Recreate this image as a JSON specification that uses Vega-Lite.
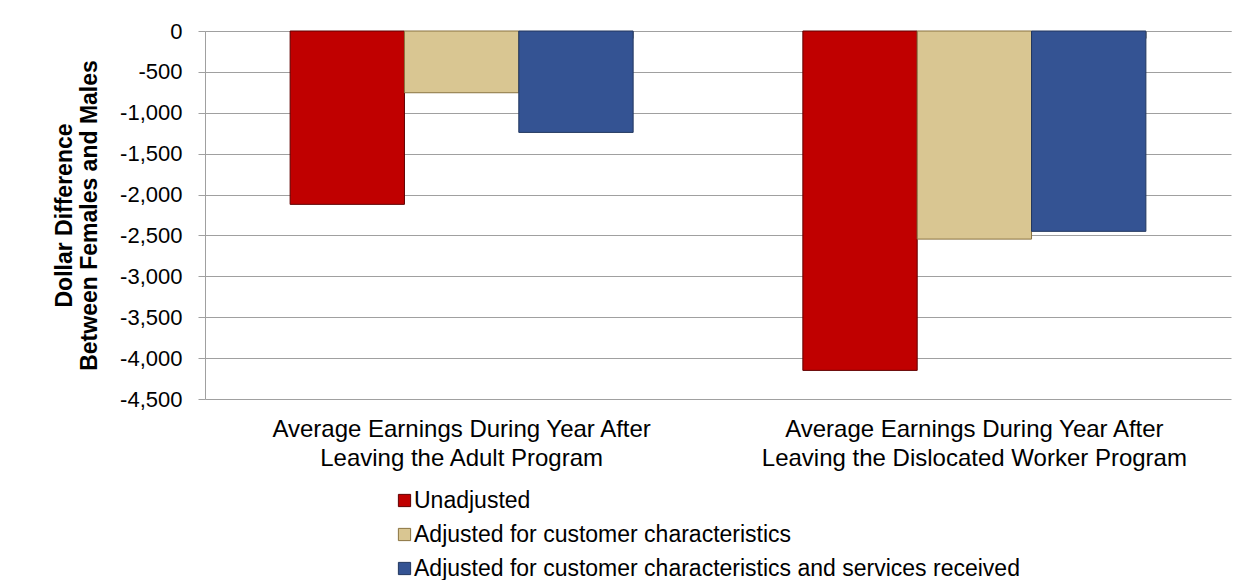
{
  "$schema": "https://vega.github.io/schema/vega-lite/v6.json",
  "width": 1026,
  "height": 368,
  "autosize": {"type": "none"},
  "padding": {"left": 205, "top": 31, "right": 17, "bottom": 181},
  "background": "white",
  "config": {"font": "Liberation Sans", "view": {"stroke": null}},
  "data": {
    "values": [
      {"program": "Average Earnings During Year After|Leaving the Adult Program", "series": "Unadjusted", "diff": -2120},
      {"program": "Average Earnings During Year After|Leaving the Adult Program", "series": "Adjusted for customer characteristics", "diff": -755},
      {"program": "Average Earnings During Year After|Leaving the Adult Program", "series": "Adjusted for customer characteristics and services received", "diff": -1240},
      {"program": "Average Earnings During Year After|Leaving the Dislocated Worker Program", "series": "Unadjusted", "diff": -4150},
      {"program": "Average Earnings During Year After|Leaving the Dislocated Worker Program", "series": "Adjusted for customer characteristics", "diff": -2545},
      {"program": "Average Earnings During Year After|Leaving the Dislocated Worker Program", "series": "Adjusted for customer characteristics and services received", "diff": -2450}
    ]
  },
  "layer": [
    {
      "mark": {"type": "bar", "strokeWidth": 1},
      "encoding": {
        "x": {
          "field": "program", "type": "nominal", "sort": null,
          "scale": {"paddingInner": 0.331, "paddingOuter": 0.166},
          "axis": {"orient": "bottom", "title": null, "domain": false, "ticks": false, "tickSize": 0, "labelAngle": 0, "labelPadding": 18, "labelFontSize": 24, "labelColor": "black", "labelLineHeight": 29, "labelExpr": "split(datum.label, '|')", "labelLimit": 0}
        },
        "xOffset": {
          "field": "series", "type": "nominal",
          "sort": ["Unadjusted", "Adjusted for customer characteristics", "Adjusted for customer characteristics and services received"],
          "scale": {"paddingInner": 0, "paddingOuter": 0}
        },
        "y": {
          "field": "diff", "type": "quantitative",
          "scale": {"domain": [-4500, 0], "nice": false},
          "axis": {
            "values": [0, -500, -1000, -1500, -2000, -2500, -3000, -3500, -4000, -4500],
            "labelExpr": "replace(format(datum.value, ',.0f'), '\u2212', '-')",
            "title": ["Dollar Difference", "Between Females and Males"],
            "titleFontSize": 23, "titleFontWeight": "bold", "titleColor": "black", "titleLineHeight": 25, "titlePadding": 18,
            "labelFontSize": 22, "labelColor": "black", "labelPadding": 16,
            "tickSize": 7, "tickColor": "#a0a0a0", "domainColor": "#a0a0a0", "gridColor": "#a0a0a0", "grid": true
          }
        },
        "color": {
          "field": "series", "type": "nominal",
          "scale": {
            "domain": ["Unadjusted", "Adjusted for customer characteristics", "Adjusted for customer characteristics and services received"],
            "range": ["#C00000", "#D9C692", "#345393"]
          },
          "legend": {"orient": "none", "legendX": 188, "legendY": 458, "title": null, "labelFontSize": 23, "labelColor": "black", "symbolType": "square", "symbolSize": 150, "symbolStrokeWidth": 1, "rowPadding": 10, "labelOffset": -2, "labelLimit": 0, "direction": "vertical"}
        },
        "stroke": {
          "field": "series", "type": "nominal",
          "scale": {
            "domain": ["Unadjusted", "Adjusted for customer characteristics", "Adjusted for customer characteristics and services received"],
            "range": ["#600000", "#8A7340", "#22375F"]
          },
          "legend": {"orient": "none", "legendX": 188, "legendY": 458, "title": null, "labelFontSize": 23, "labelColor": "black", "symbolType": "square", "symbolSize": 150, "symbolStrokeWidth": 1, "rowPadding": 10, "labelOffset": -2, "labelLimit": 0, "direction": "vertical"}
        }
      }
    },
    {
      "mark": {"type": "rule", "opacity": 0},
      "encoding": {
        "x": {
          "field": "program", "type": "nominal", "sort": null,
          "axis": {"orient": "top", "title": null, "labels": false, "domain": true, "domainColor": "#a0a0a0", "ticks": true, "tickBand": "extent", "tickSize": -7, "tickColor": "#a0a0a0", "grid": false}
        }
      }
    }
  ],
  "resolve": {"axis": {"x": "independent"}}
}
